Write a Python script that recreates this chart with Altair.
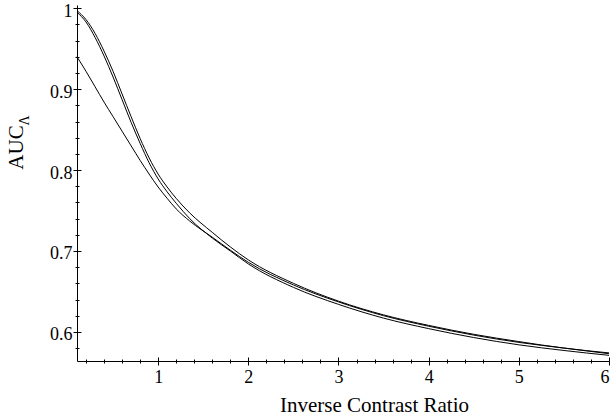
import altair as alt
import pandas as pd

# ---- data ----
x_vals = [0.1, 0.2, 0.3, 0.4, 0.5, 0.6, 0.7, 0.8, 0.9, 1.0, 1.1, 1.2, 1.35, 1.6, 1.8, 2.0,
          2.5, 3.0, 3.5, 4.0, 4.5, 5.0, 5.5, 6.0]
auc_a = [0.997, 0.986, 0.969, 0.947, 0.922, 0.894, 0.866, 0.839, 0.815, 0.795, 0.779, 0.765,
         0.747, 0.723, 0.705, 0.689, 0.660, 0.638, 0.621, 0.608, 0.597, 0.588, 0.580, 0.574]
auc_b = [0.995, 0.983, 0.964, 0.941, 0.915, 0.887, 0.859, 0.833, 0.809, 0.789, 0.773, 0.759,
         0.740, 0.716, 0.700, 0.684, 0.655, 0.634, 0.617, 0.604, 0.593, 0.584, 0.577, 0.571]
auc_c = [0.940, 0.922, 0.903, 0.884, 0.866, 0.848, 0.830, 0.812, 0.795, 0.779, 0.765, 0.752,
         0.737, 0.717, 0.701, 0.686, 0.658, 0.637, 0.620, 0.607, 0.596, 0.587, 0.580, 0.573]

x_major = [1, 2, 3, 4, 5, 6]
x_minor = [0.2, 0.4, 0.6, 0.8, 1.2, 1.4, 1.6, 1.8, 2.2, 2.4, 2.6, 2.8, 3.2, 3.4, 3.6, 3.8,
           4.2, 4.4, 4.6, 4.8, 5.2, 5.4, 5.6, 5.8]
y_major = [0.6, 0.7, 0.8, 0.9, 1.0]
y_minor = [0.58, 0.62, 0.64, 0.66, 0.68, 0.72, 0.74, 0.76, 0.78, 0.82, 0.84, 0.86, 0.88,
           0.92, 0.94, 0.96, 0.98]

x_domain = [0.1, 6.0]
y_domain = [0.564, 1.004]

rows = []
for name, ys in (("A", auc_a), ("B", auc_b), ("C", auc_c)):
    for xv, yv in zip(x_vals, ys):
        rows.append({"x": xv, "y": yv, "series": name})
df = pd.DataFrame(rows)

FONT = "Liberation Serif"
xs = alt.Scale(domain=x_domain, nice=False, zero=False)
ys_ = alt.Scale(domain=y_domain, nice=False, zero=False)

base = alt.Chart(df)

main = base.mark_line(color="black", strokeWidth=1, interpolate="monotone").encode(
    x=alt.X("x:Q", scale=xs, axis=alt.Axis(
        orient="bottom", values=x_major, tickSize=4, tickColor="black", domainColor="black",
        labelFont=FONT, labelFontSize=18, labelColor="black", labelPadding=3, grid=False,
        title="Inverse Contrast Ratio", titleFont=FONT, titleFontSize=21,
        titleFontWeight="normal", titleColor="black", titleAlign="center",
        titleBaseline="alphabetic", titleX=297, titleY=50)),
    y=alt.Y("y:Q", scale=ys_, axis=alt.Axis(
        orient="left", values=y_major, format=".1~f", tickSize=4, tickColor="black",
        domainColor="black", labelFont=FONT, labelFontSize=18, labelColor="black",
        labelPadding=1, labelBaseline="middle", labelOffset=3, grid=False,
        title="AUC", titleFont=FONT, titleFontSize=21, titleFontWeight="normal",
        titleColor="black", titleAngle=270, titleAlign="center", titleBaseline="alphabetic",
        titleX=-55, titleY=142)),
    detail="series:N",
)

inner = base.mark_line(opacity=0).encode(
    x=alt.X("x:Q", scale=xs, axis=alt.Axis(
        orient="bottom", values=x_major, tickSize=4, tickColor="black", offset=-4,
        domain=False, labels=False, grid=False, title=None)),
    y=alt.Y("y:Q", scale=ys_, axis=alt.Axis(
        orient="left", values=y_major, tickSize=4, tickColor="black", offset=-4,
        domain=False, labels=False, grid=False, title=None)),
    detail="series:N",
)

minor = base.mark_line(opacity=0).encode(
    x=alt.X("x:Q", scale=xs, axis=alt.Axis(
        orient="bottom", values=x_minor, tickSize=4, tickColor="black", offset=-2,
        domain=False, labels=False, grid=False, title=None)),
    y=alt.Y("y:Q", scale=ys_, axis=alt.Axis(
        orient="left", values=y_minor, tickSize=4, tickColor="black", offset=-2,
        domain=False, labels=False, grid=False,
        title="Λ", titleFont=FONT, titleFontSize=14, titleFontWeight="normal",
        titleColor="black", titleAngle=270, titleAlign="center", titleBaseline="alphabetic",
        titleX=-51, titleY=115)),
    detail="series:N",
)

chart = alt.layer(main, inner, minor).resolve_axis(x="independent", y="independent").properties(
    width=532, height=356,
    autosize=alt.AutoSizeParams(type="none"),
    padding={"left": 77, "top": 5, "right": 3, "bottom": 59},
    background="white",
).configure_view(stroke=None)

chart.save("out.html", embed_options={"renderer": "svg", "actions": False})
